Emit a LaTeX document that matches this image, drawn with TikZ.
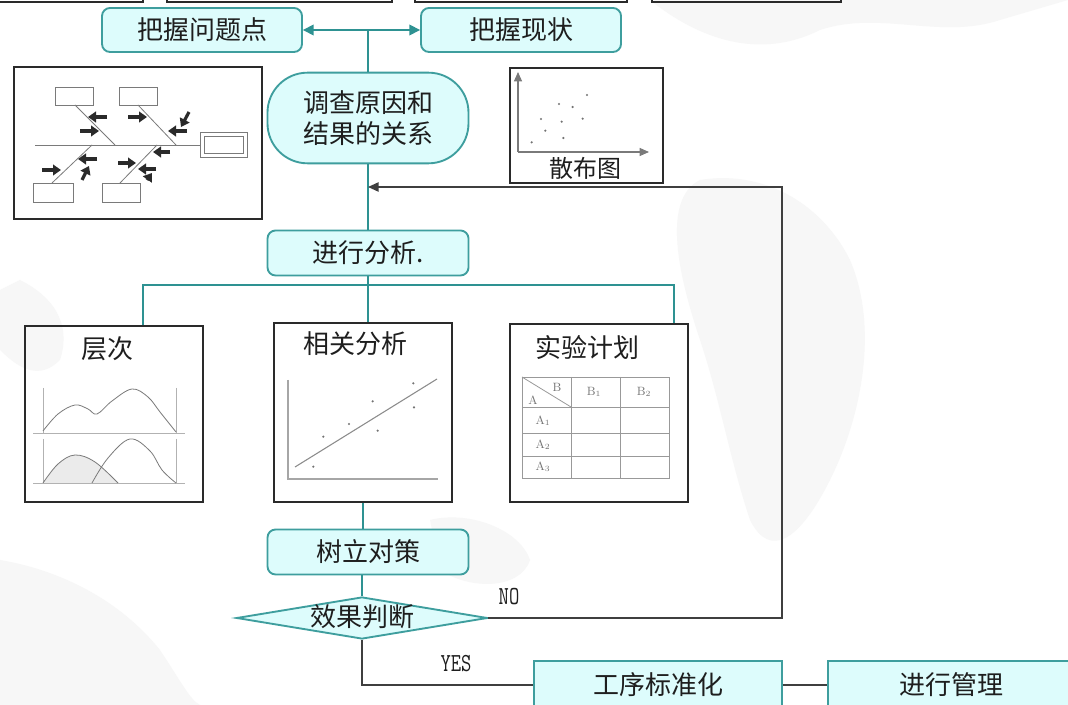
\documentclass[tikz,border=0pt]{standalone}
\usepackage{fontspec}
\newfontfamily\cjk{Noto Sans CJK SC}
\usetikzlibrary{shapes.geometric,arrows.meta}
\definecolor{cyanfill}{HTML}{DDFCFC}
\definecolor{tealedge}{HTML}{3E9E9E}
\definecolor{tealline}{HTML}{2E9292}
\definecolor{ink}{HTML}{1E1E1E}
\definecolor{frame}{HTML}{2A2A2A}
\definecolor{sketch}{HTML}{7A7A7A}
\definecolor{mapgrey}{HTML}{F7F7F7}
\begin{document}
\begin{tikzpicture}[x=0.75pt,y=-0.75pt,
  cjkfont/.style={font=\cjk\fontsize{19.5}{24}\selectfont, text=ink},
  flowbox/.style={cjkfont, draw=tealedge, fill=cyanfill, line width=1.4pt,
    rounded corners=6pt, inner sep=0pt},
  plainbox/.style={cjkfont, draw=tealedge, fill=cyanfill, line width=1.4pt, inner sep=0pt},
  framebox/.style={draw=frame, line width=1.1pt, inner sep=0pt},
  conn/.style={draw=tealline, line width=1.1pt},
  darkconn/.style={draw=frame!90, line width=1.1pt},
  sk/.style={draw=sketch, line width=0.6pt},
  fisharrow/.style={draw=frame, line width=2.4pt, -{Triangle[length=6pt,width=8pt]}},
  yesno/.style={font=\ttfamily\fontsize{15}{18}\selectfont, yscale=1.3, text=ink},
  tablabel/.style={font=\rmfamily\fontsize{9}{10}\selectfont, text=black!55, inner sep=0pt}
]
\useasboundingbox (0,0) rectangle (1068,705);
\fill[white] (0,0) rectangle (1068,705);

% faint map in the background
\fill[mapgrey] (650,0) .. controls (700,40) and (760,60) .. (820,30)
  .. controls (880,10) and (940,40) .. (1000,20) -- (1068,0) -- cycle;
\fill[mapgrey] (700,180) .. controls (760,170) and (820,200) .. (850,260)
  .. controls (880,330) and (860,420) .. (830,480)
  .. controls (800,540) and (770,560) .. (750,520)
  .. controls (730,460) and (720,400) .. (700,340)
  .. controls (680,280) and (660,200) .. cycle;
\fill[mapgrey] (430,520) .. controls (470,510) and (520,530) .. (530,560)
  .. controls (520,590) and (470,590) .. (440,570) -- cycle;
\fill[mapgrey] (0,560) .. controls (60,570) and (120,600) .. (160,650)
  .. controls (180,680) and (190,700) .. (200,705) -- (0,705) -- cycle;
\fill[mapgrey] (20,280) .. controls (60,300) and (70,330) .. (60,360)
  .. controls (40,380) and (20,370) .. (0,350) -- (0,290) -- cycle;

% partly visible boxes along the upper edge
\draw[framebox] (-5,-20) rectangle (143,2);
\draw[framebox] (167,-20) rectangle (392,2);
\draw[framebox] (415,-20) rectangle (627,2);
\draw[framebox] (652,-20) rectangle (841,2);

% flow nodes
\node[flowbox, minimum width=150pt, minimum height=33pt] (pq) at (202,30) {把握问题点};
\node[flowbox, minimum width=150pt, minimum height=33pt] (xz) at (521,30) {把握现状};
\node[flowbox, rounded corners=30pt, minimum width=150.75pt, minimum height=68pt,
  align=center] (dc) at (368,118) {调查原因和\\[-1pt]结果的关系};
\node[flowbox, minimum width=150.75pt, minimum height=33.75pt] (fx) at (368,253) {进行分析.};
\node[flowbox, minimum width=150.75pt, minimum height=33.75pt] (dz) at (368,552) {树立对策};
\node[diamond, draw=tealedge, fill=cyanfill, line width=1.4pt, inner sep=0pt,
  minimum width=188.25pt, minimum height=31.5pt] (jd) at (362,618) {};
\node[cjkfont] (jdt) at (362,617) {效果判断};
\node[plainbox, minimum width=186pt, minimum height=36pt] (gx) at (658,685) {工序标准化};
\node[plainbox, minimum width=185pt, minimum height=36pt] (gl) at (951,685) {进行管理};

% picture frames
\node[framebox, minimum width=186pt, minimum height=114pt] (fb) at (138,143) {};
\node[framebox, minimum width=114.75pt, minimum height=86.25pt] (sp) at (586.5,125.5) {};
\node[framebox, minimum width=133.5pt, minimum height=132pt] (cc) at (114,414) {};
\node[framebox, minimum width=133.5pt, minimum height=134.25pt] (xg) at (363,412.5) {};
\node[framebox, minimum width=133.5pt, minimum height=133.5pt] (ex) at (599,413) {};

\node[cjkfont] (cct) at (107,349) {层次};
\node[cjkfont] (xgt) at (355,344) {相关分析};
\node[cjkfont] (ext) at (587,348) {实验计划};
\node[cjkfont, font=\cjk\fontsize{18}{22}\selectfont] (spt) at (585,168) {散布图};

% connectors
\draw[conn, {Triangle[length=8pt,width=8pt]}-{Triangle[length=8pt,width=8pt]}] (pq.east) -- (xz.west);
\coordinate (top) at (368,31);
\draw[conn] (top) -- (dc.north);
\draw[conn] (dc.south) -- (fx.north);
\coordinate (bl) at (143,285);
\coordinate (br) at (674,285);
\draw[conn] (bl |- cc.north) -- (bl) -- (br) -- (br |- ex.north);
\draw[conn] (fx.south) -- (fx.south |- xg.north);
\draw[conn] (xg.south) -- (xg.south |- dz.north);
\draw[conn] (jd.north |- dz.south) -- (jd.north);
\coordinate (fbk) at (782,187);
\draw[darkconn, -{Triangle[length=8pt,width=7pt]}] (jd.east) -| (fbk) -- (fbk -| dc.south);
\draw[darkconn] (jd.south) |- (gx.west);
\draw[darkconn] (gx.east) -- (gl.west);
\node[yesno] (no) at (509,597) {NO};
\node[yesno] (yes) at (456,664) {YES};

% fishbone sketch
\draw[sk] (35,145) -- (200,145);
\draw[sk] (200,132) rectangle (247,157);
\draw[sk] (204,136) rectangle (243,153);
\draw[sk] (55,87) rectangle (93,105);
\draw[sk] (119,87) rectangle (157,105);
\draw[sk] (33,183) rectangle (73,202);
\draw[sk] (102,183) rectangle (140,202);
\draw[sk] (75,105) -- (115,145);
\draw[sk] (138,105) -- (176,145);
\draw[sk] (52,183) -- (92,145);
\draw[sk] (120,183) -- (157,145);
\draw[fisharrow] (107,117) -- (88,117);
\draw[fisharrow] (80,131) -- (99,131);
\draw[fisharrow] (128,117) -- (147,117);
\draw[fisharrow] (187,131) -- (168,131);
\draw[fisharrow] (189,112) -- (181,127);
\draw[fisharrow] (42,170) -- (61,170);
\draw[fisharrow] (97,159) -- (78,159);
\draw[fisharrow] (82,180) -- (89,166);
\draw[fisharrow] (170,152) -- (153,152);
\draw[fisharrow] (118,163) -- (136,163);
\draw[fisharrow] (156,169) -- (138,169);
\draw[fisharrow] (147,180) -- (152,173);

% scatter sketch
\draw[sk, line width=0.8pt, -{Triangle[length=7pt,width=6pt]}] (518,152) -- (518,72);
\draw[sk, line width=0.8pt, -{Triangle[length=7pt,width=6pt]}] (518,152) -- (649,152);
\foreach \p/\q in {95/247,123/177,136/212,177/132,185/185,190/234,218/141,248/176,261/105}
  \fill[black!55] (500+\p/3,60+\q/3) circle (0.9pt);

% stratification sketch
\draw[sk, black!30] (33,433) -- (185,433);
\draw[sk, black!30] (43,388) -- (43,433) (176,388) -- (176,433);
\draw[sk] plot[smooth, tension=0.6] coordinates {(43,431) (58,414) (75,405) (88,409) (97,414) (112,401) (132,389) (148,397) (160,412) (176,432)};
\fill[black!8] plot[smooth, tension=0.6] coordinates {(43,483) (58,464) (75,455) (95,462) (118,483)} -- cycle;
\draw[sk, black!30] (33,483) -- (185,483);
\draw[sk, black!30] (43,439) -- (43,483) (176,439) -- (176,483);
\draw[sk] plot[smooth, tension=0.6] coordinates {(43,483) (58,464) (75,455) (95,462) (118,483)};
\draw[sk] plot[smooth, tension=0.6] coordinates {(92,483) (108,458) (130,439) (150,451) (162,470) (176,483)};

% correlation sketch
\draw[sk, black!35, line width=1pt] (288,380) -- (288,479) -- (438,479);
\draw[sk, black!45, line width=0.8pt] (295,467) -- (437,379);
\foreach \p/\q in {130/440,160/350,237/312,308/244,323/332,430/190,432/262}
  \fill[black!55] (270+\p/3,320+\q/3) circle (0.9pt);

% design-of-experiments table
\draw[sk, black!40] (522,377) rectangle (669,478);
\draw[sk, black!40] (571,377) -- (571,478) (620,377) -- (620,478);
\draw[sk, black!40] (522,407) -- (669,407) (522,433) -- (669,433) (522,456) -- (669,456);
\draw[sk, black!40] (522,377) -- (571,407);
\node[tablabel] (tb) at (557,387) {B};
\node[tablabel] (ta) at (533,400) {A};
\node[tablabel] (tb1) at (594,392) {B$_1$};
\node[tablabel] (tb2) at (644,392) {B$_2$};
\node[tablabel] (ta1) at (543,421) {A$_1$};
\node[tablabel] (ta2) at (543,445) {A$_2$};
\node[tablabel] (ta3) at (543,467) {A$_3$};
\end{tikzpicture}
\end{document}
